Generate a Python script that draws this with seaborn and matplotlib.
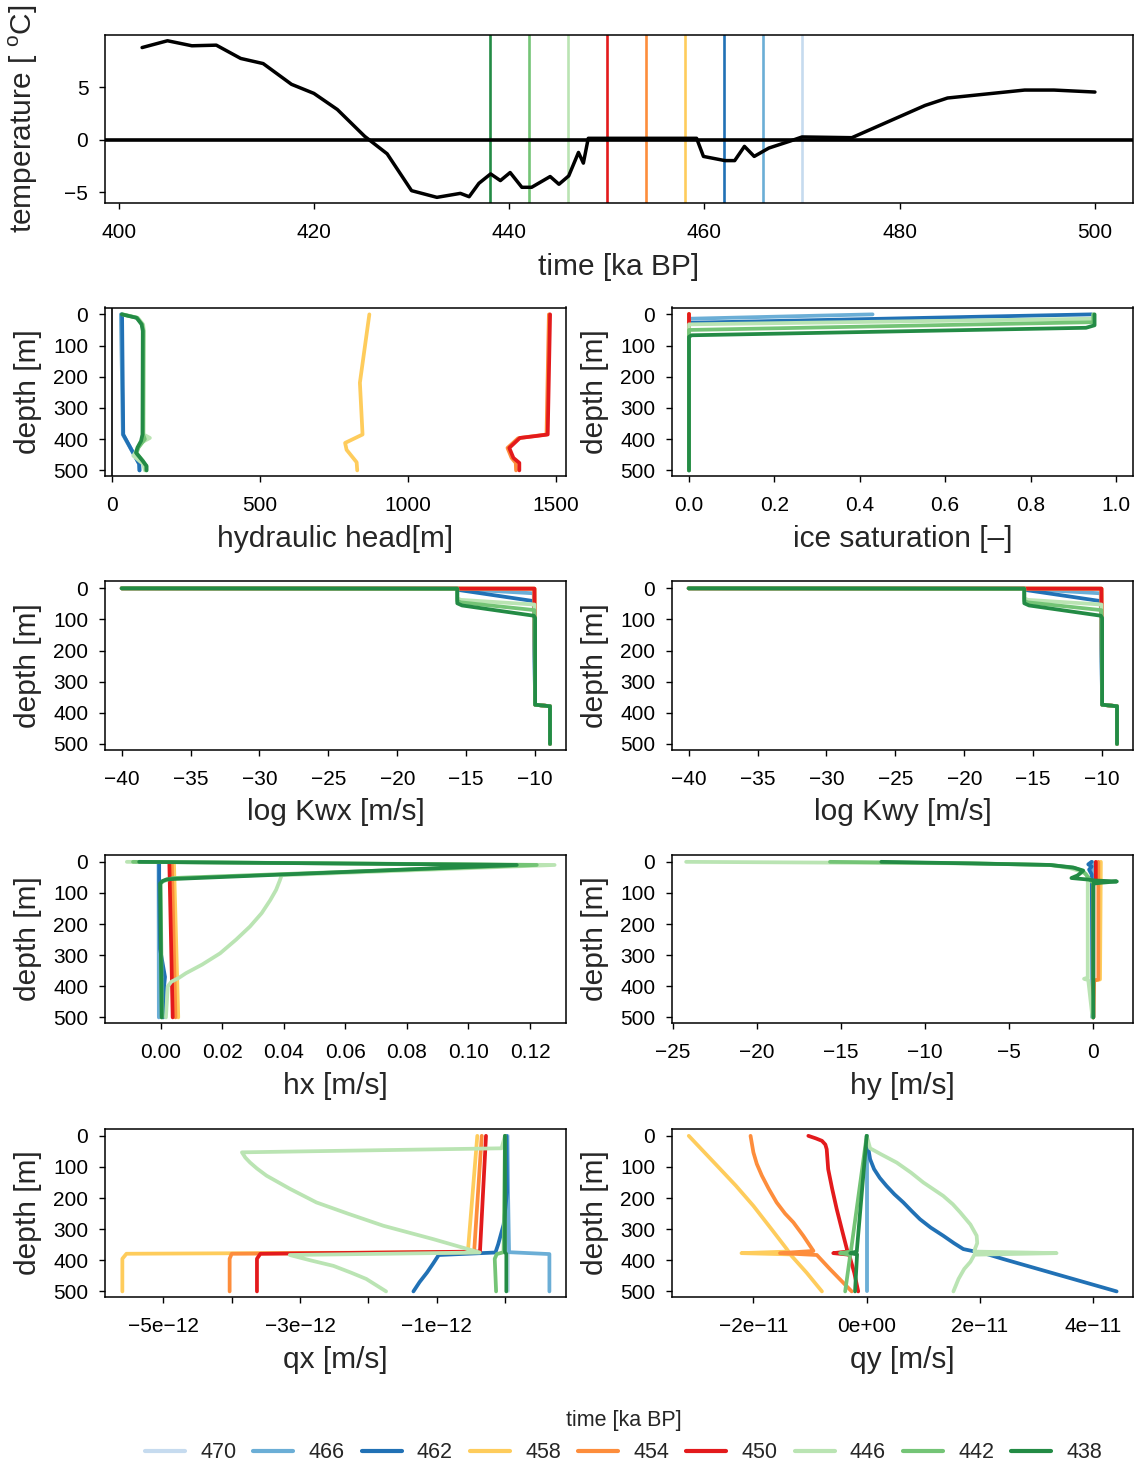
import matplotlib.pyplot as plt
import seaborn as sns
import numpy as np
import pandas as pd

# time slices shown as profiles (ka BP) and their colours
times = [470, 466, 462, 458, 454, 450, 446, 442, 438]
colors = ['#c6dbef', '#6baed6', '#2171b5', '#fecc5c', '#fd8d3c',
          '#e31a1c', '#bae4b3', '#74c476', '#238b45']

# surface temperature history
temp_time = [402.4, 405.0, 407.5, 410.0, 412.5, 414.8, 417.7, 420.0, 422.4,
             425.2, 427.5, 430.0, 432.6, 435.0, 435.9, 436.9, 438.1, 439.1,
             440.1, 441.3, 442.3, 444.2, 445.1, 446.1, 447.1, 447.6, 448.1,
             459.2, 459.9, 462.1, 463.1, 464.1, 465.1, 466.6, 468.7, 470.0,
             475.1, 482.6, 484.9, 492.8, 495.8, 500.0]
temp = [8.8, 9.45, 8.97, 9.03, 7.76, 7.27, 5.29, 4.42, 2.88,
        0.32, -1.35, -4.87, -5.51, -5.13, -5.45, -4.17, -3.27, -3.91,
        -3.14, -4.55, -4.55, -3.52, -4.26, -3.46, -1.22, -2.24, 0.13,
        0.13, -1.6, -2.0, -2.0, -0.64, -1.6, -0.8, -0.16, 0.26,
        0.19, 3.27, 3.98, 4.74, 4.74, 4.55]

# depth profiles: (depth [m], value)
head_470 = [(0, 30), (385, 35), (478, 90), (500, 91)]
head_466 = [(0, 29), (385, 36), (478, 91), (500, 92)]
head_462 = [(0, 33), (385, 37), (480, 91), (500, 92)]
head_458 = [(0, 869), (219, 837), (385, 846), (412, 787), (434, 792), (474, 826), (500, 828)]
head_454 = [(0, 1476), (385, 1468), (391, 1418), (397, 1372), (428, 1336), (460, 1350), (476, 1364), (500, 1365)]
head_450 = [(0, 1480), (385, 1472), (391, 1423), (396, 1378), (428, 1342), (460, 1356), (476, 1376), (500, 1376)]
head_446 = [(0, 36), (11, 86), (32, 104), (53, 107), (385, 106), (396, 127), (410, 100), (453, 71), (480, 105), (500, 110)]
head_442 = [(0, 34), (11, 84), (32, 101), (53, 105), (385, 104), (400, 110), (427, 88), (445, 82), (470, 104), (486, 114), (500, 114)]
head_438 = [(0, 32), (11, 82), (32, 99), (53, 103), (385, 102), (406, 97), (427, 85), (443, 80), (470, 103), (486, 116), (500, 116)]

ice_470 = [(0, 0.0), (500, 0.0)]
ice_466 = [(0, 0.43), (14, 0.0), (500, 0.0)]
ice_462 = [(0, 0.943), (27, 0.0), (500, 0.0)]
ice_458 = [(0, 0.0), (500, 0.0)]
ice_454 = [(0, 0.0), (500, 0.0)]
ice_450 = [(0, 0.0), (500, 0.0)]
ice_446 = [(0, 0.947), (14, 0.947), (32, 0.0), (500, 0.0)]
ice_442 = [(0, 0.947), (25, 0.947), (50, 0.0), (500, 0.0)]
ice_438 = [(0, 0.95), (35, 0.95), (43, 0.93), (67, 0.006), (72, 0.0), (500, 0.0)]

kw_470 = [(0, -40), (1, -10.05), (374, -10.0), (379, -8.92), (500, -8.92)]
kw_466 = [(0, -40), (1, -15.65), (2, -15.6), (16, -10.1), (374, -10.0), (379, -8.92), (500, -8.92)]
kw_462 = [(0, -40), (1, -15.65), (5, -15.6), (41, -10.1), (374, -10.0), (379, -8.92), (500, -8.92)]
kw_458 = [(0, -40), (1, -10.05), (374, -10.0), (379, -8.92), (500, -8.92)]
kw_454 = [(0, -40), (1, -10.05), (374, -10.0), (379, -8.92), (500, -8.92)]
kw_450 = [(0, -40), (1, -10.05), (374, -10.0), (379, -8.92), (500, -8.92)]
kw_446 = [(0, -40), (1, -15.65), (32, -15.65), (37, -15.4), (52, -10.05), (374, -10.0), (379, -8.92), (500, -8.92)]
kw_442 = [(0, -40), (1, -15.65), (40, -15.65), (45, -15.4), (70, -10.05), (374, -10.0), (379, -8.92), (500, -8.92)]
kw_438 = [(0, -40), (1, -15.65), (48, -15.65), (55, -15.3), (88, -10.1), (95, -10.0), (374, -10.0), (379, -8.92), (500, -8.92)]

hx_470 = [(0, -0.0004), (500, -0.0004)]
hx_466 = [(0, -0.0007), (500, -0.0006)]
hx_462 = [(0, -0.0005), (60, -0.0005), (280, -0.0002), (370, 0.0014), (400, 0.0011), (500, 0.0008)]
hx_458 = [(0, 0.0043), (500, 0.0057)]
hx_454 = [(0, 0.0036), (500, 0.0048)]
hx_450 = [(0, 0.0028), (500, 0.0039)]
hx_446 = [(0, -0.011), (10, 0.128), (43, 0.0393), (60, 0.0387), (90, 0.0375), (123, 0.0356), (165, 0.0328),
          (208, 0.029), (250, 0.0245), (294, 0.0193), (330, 0.0135), (358, 0.0082), (373, 0.0059),
          (385, 0.0035), (400, 0.0023), (500, 0.0017)]
hx_442 = [(0, -0.009), (10, 0.1222), (52, 0.004), (62, 0.0008), (70, 0.0), (500, 0.0004)]
hx_438 = [(0, -0.007), (10, 0.1157), (56, 0.002), (62, 0.0005), (70, -0.0002), (500, 0.0003)]

hy_470 = [(0, 0.0), (500, 0.0)]
hy_466 = [(0, -0.05), (500, -0.05)]
hy_462 = [(0, -0.1), (8, -0.3), (15, -0.1), (25, -0.25), (40, -0.1), (500, 0.0)]
hy_458 = [(0, 0.45), (378, 0.4), (382, 0.0), (500, 0.0)]
hy_454 = [(0, 0.3), (378, 0.3), (382, 0.05), (500, 0.0)]
hy_450 = [(0, 0.15), (60, 0.15), (70, 0.0), (500, 0.0)]
hy_446 = [(0, -24.2), (5, -7.0), (10, -2.6), (20, -1.4), (28, -0.9), (40, -0.4), (60, -0.33), (372, -0.33),
          (376, -0.55), (380, -0.3), (500, -0.05)]
hy_442 = [(0, -15.65), (5, -7.2), (10, -2.5), (20, -1.1), (30, -0.6), (50, -0.3), (70, 0.0), (500, 0.0)]
hy_438 = [(0, -12.6), (5, -7.3), (10, -2.6), (18, -1.2), (28, -0.6), (38, -0.8), (44, -0.95), (52, -1.3),
          (57, -0.3), (60, 0.1), (63, 1.4), (67, 0.5), (70, 0.0), (500, 0.0)]

# qx, qy in 1e-12 m/s
qx_470 = [(0, 0.05), (500, 0.05)]
qx_466 = [(0, 0.03), (374, 0.06), (380, 0.65), (390, 0.65), (500, 0.65)]
qx_462 = [(0, 0.02), (182, 0.03), (285, -0.02), (349, -0.1), (375, -0.14), (383, -0.97), (410, -1.05),
          (439, -1.14), (470, -1.25), (500, -1.34)]
qx_458 = [(0, -0.405), (364, -0.54), (374, -0.56), (379, -5.54), (395, -5.6), (500, -5.6)]
qx_454 = [(0, -0.34), (368, -0.45), (374, -0.46), (379, -4.0), (395, -4.03), (500, -4.03)]
qx_450 = [(0, -0.278), (372, -0.366), (379, -3.58), (395, -3.63), (500, -3.63)]
qx_446 = [(0, 0.0), (40, -0.05), (53, -3.85), (70, -3.8), (86, -3.73), (105, -3.63), (128, -3.49),
          (170, -3.15), (214, -2.76), (250, -2.3), (289, -1.78), (332, -1.05), (375, -0.37),
          (383, -3.15), (400, -2.85), (418, -2.51), (440, -2.25), (460, -2.03), (500, -1.74)]
qx_442 = [(0, 0.0), (374, -0.02), (380, -0.12), (395, -0.15), (500, -0.13)]
qx_438 = [(0, 0.0), (374, 0.0), (380, 0.02), (500, 0.02)]

qy_470 = [(0, 0.0), (500, 0.0)]
qy_466 = [(0, 0.1), (500, 0.1)]
qy_462 = [(0, 0.0), (43, 0.3), (75, 0.6), (107, 1.3), (135, 2.3), (161, 3.5), (188, 4.9), (214, 6.46),
          (241, 7.9), (268, 9.4), (295, 11.3), (321, 13.5), (345, 15.4), (364, 17.05), (380, 21.2),
          (396, 24.1), (500, 44.1)]
qy_458 = [(0, -31.4), (50, -28.8), (100, -26.2), (160, -23.1), (225, -20.0), (300, -16.8), (364, -14.1),
          (372, -13.8), (377, -22.1), (381, -13.5), (440, -10.6), (500, -7.9)]
qy_454 = [(0, -20.5), (53, -20.0), (90, -19.4), (128, -18.5), (170, -17.3), (214, -15.9), (250, -14.4),
          (278, -12.95), (321, -11.2), (370, -9.4), (377, -15.3), (383, -8.8), (428, -6.5), (500, -2.65)]
qy_450 = [(0, -10.3), (8, -9.0), (16, -7.9), (28, -7.3), (43, -7.06), (107, -6.8), (170, -6.1),
          (235, -5.3), (300, -4.4), (364, -3.5), (372, -3.4), (377, -5.9), (382, -3.1), (440, -2.2),
          (500, -1.5)]
qy_446 = [(0, 0.0), (40, 0.6), (60, 2.6), (86, 5.3), (118, 7.8), (150, 10.0), (193, 13.5), (220, 15.2),
          (246, 16.5), (285, 18.3), (321, 19.4), (345, 19.5), (364, 19.1), (372, 19.0), (377, 33.5),
          (382, 19.0), (405, 18.3), (428, 17.2), (460, 16.2), (500, 15.3)]
qy_442 = [(0, 0.0), (372, -2.8), (377, -4.7), (382, -2.9), (500, -3.8)]
qy_438 = [(0, 0.0), (372, -1.76), (377, -2.9), (381, -1.7), (500, -2.06)]

head = dict(zip(times, [head_470, head_466, head_462, head_458, head_454, head_450, head_446, head_442, head_438]))
ice = dict(zip(times, [ice_470, ice_466, ice_462, ice_458, ice_454, ice_450, ice_446, ice_442, ice_438]))
kw = dict(zip(times, [kw_470, kw_466, kw_462, kw_458, kw_454, kw_450, kw_446, kw_442, kw_438]))
hx = dict(zip(times, [hx_470, hx_466, hx_462, hx_458, hx_454, hx_450, hx_446, hx_442, hx_438]))
hy = dict(zip(times, [hy_470, hy_466, hy_462, hy_458, hy_454, hy_450, hy_446, hy_442, hy_438]))
qx = dict(zip(times, [qx_470, qx_466, qx_462, qx_458, qx_454, qx_450, qx_446, qx_442, qx_438]))
qy = dict(zip(times, [qy_470, qy_466, qy_462, qy_458, qy_454, qy_450, qy_446, qy_442, qy_438]))

depth_ticks = [0, 100, 200, 300, 400, 500]
M = '\u2212'

sns.set_style('ticks')
plt.rcParams['font.family'] = ['Liberation Sans', 'DejaVu Sans']
plt.rcParams.update({'mathtext.fontset': 'custom', 'mathtext.rm': 'Liberation Sans',
                     'axes.edgecolor': 'black', 'axes.linewidth': 1.1,
                     'xtick.color': 'black', 'ytick.color': 'black',
                     'xtick.major.size': 4, 'ytick.major.size': 4,
                     'xtick.major.width': 1.0, 'ytick.major.width': 1.0,
                     'xtick.major.pad': 10.5, 'ytick.major.pad': 8,
                     'xtick.labelsize': 15, 'ytick.labelsize': 15,
                     'axes.labelsize': 21.5})

W, H = 1138., 1465.
fig = plt.figure(figsize=(W / 100, H / 100), dpi=100)
pal = dict(zip([str(t) for t in times], colors))


def place(x0, y0, x1, y1):
    return fig.add_axes([x0 / W, 1 - y1 / H, (x1 - x0) / W, (y1 - y0) / H])


def long_table(series, scale=1.0):
    rows = []
    for t in times:
        for d, v in series[t]:
            rows.append((str(t), d, v * scale))
    return pd.DataFrame(rows, columns=['time', 'depth', 'value'])


# Top: temperature history
ax = place(105, 35, 1133, 203)
for t, c in zip(times, colors):
    ax.axvline(t, color=c, lw=1.9)
ax.axhline(0, color='black', lw=2.6)
sns.lineplot(x=temp_time, y=temp, color='black', lw=2.5, sort=False,
             estimator=None, ax=ax)
ax.set_xlim(398.6, 503.9)
ax.set_ylim(-6.05, 10.0)
ax.set_xticks([400, 420, 440, 460, 480, 500])
ax.set_yticks([-5, 0, 5])
ax.set_yticklabels([M + '5', '0', '5'])
ax.set_xlabel('time [ka BP]')
ax.set_ylabel(r'temperature [ $^\mathrm{o}$C]')
ax.xaxis.set_label_coords(0.5, -0.30)
ax.yaxis.set_label_coords(-0.063, 0.5)

rows_y = [(307.5, 476), (581.5, 749.5), (855, 1023), (1129, 1297)]
cols_x = [(105, 566), (672, 1133)]

panels = [
    (head, 1.0, (-24.7, 1533.8), [0, 500, 1000, 1500], ['0', '500', '1000', '1500'], 'hydraulic head[m]'),
    (ice, 1.0, (-0.0398, 1.04), [0, 0.2, 0.4, 0.6, 0.8, 1.0], ['0.0', '0.2', '0.4', '0.6', '0.8', '1.0'],
     'ice saturation [\u2013]'),
    (kw, 1.0, (-41.21, -7.76), [-40, -35, -30, -25, -20, -15, -10],
     [M + '40', M + '35', M + '30', M + '25', M + '20', M + '15', M + '10'], 'log Kwx [m/s]'),
    (kw, 1.0, (-41.21, -7.76), [-40, -35, -30, -25, -20, -15, -10],
     [M + '40', M + '35', M + '30', M + '25', M + '20', M + '15', M + '10'], 'log Kwy [m/s]'),
    (hx, 1.0, (-0.0181, 0.1317), [0, 0.02, 0.04, 0.06, 0.08, 0.10, 0.12],
     ['0.00', '0.02', '0.04', '0.06', '0.08', '0.10', '0.12'], 'hx [m/s]'),
    (hy, 1.0, (-25.04, 2.36), [-25, -20, -15, -10, -5, 0],
     [M + '25', M + '20', M + '15', M + '10', M + '5', '0'], 'hy [m/s]'),
    (qx, 1e-12, (-5.854e-12, 0.893e-12), [-5e-12, -4e-12, -3e-12, -2e-12, -1e-12, 0],
     [M + '5e' + M + '12', '', M + '3e' + M + '12', '', M + '1e' + M + '12', ''], 'qx [m/s]'),
    (qy, 1e-12, (-34.36e-12, 46.99e-12), [-2e-11, 0, 2e-11, 4e-11],
     [M + '2e' + M + '11', '0e+00', '2e' + M + '11', '4e' + M + '11'], 'qy [m/s]'),
]

axes = []
for i, (series, scale, xlim, xt, xtl, xlabel) in enumerate(panels):
    y0, y1 = rows_y[i // 2]
    x0, x1 = cols_x[i % 2]
    ax = place(x0, y0, x1, y1)
    df = long_table(series, scale)
    if i == 0:
        ax.axvline(0, color='black', lw=1.2)
    sns.lineplot(data=df, x='value', y='depth', hue='time', hue_order=[str(t) for t in times],
                 palette=pal, sort=False, estimator=None, lw=2.7, legend=(i == 0), ax=ax)
    ax.set_xlim(*xlim)
    ax.set_ylim(518, -22)
    ax.set_xticks(xt)
    ax.set_xticklabels(xtl)
    ax.set_yticks(depth_ticks)
    ax.set_yticklabels([str(d) for d in depth_ticks])
    ax.set_xlabel(xlabel)
    ax.set_ylabel('depth [m]')
    ax.xaxis.set_label_coords(0.5, -0.29)
    ax.yaxis.set_label_coords(-0.137, 0.5)
    axes.append(ax)

sns.move_legend(axes[0], 'upper center', bbox_to_anchor=(0.548, 0.0505),
                bbox_transform=fig.transFigure, ncol=9, title='time [ka BP]',
                frameon=False, fontsize=15.5, title_fontsize=15.5,
                handlelength=1.86, handletextpad=0.7, columnspacing=0.8)
for line in axes[0].get_legend().get_lines():
    line.set_linewidth(3.0)

fig.savefig('out.png', dpi=100)
